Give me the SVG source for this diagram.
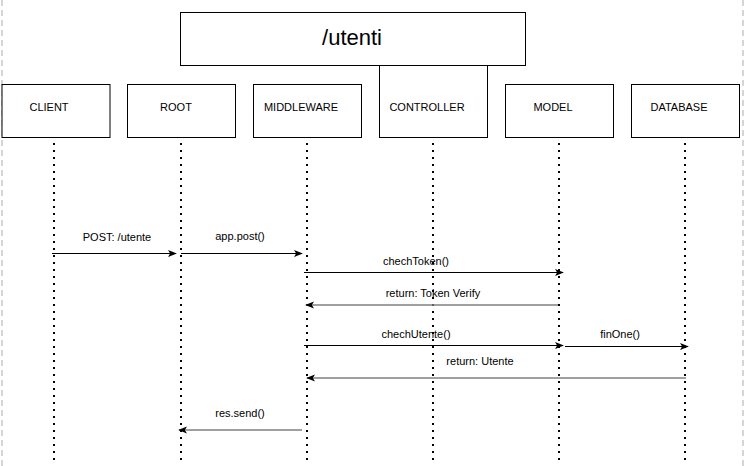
<svg xmlns="http://www.w3.org/2000/svg" width="746" height="466" viewBox="0 0 746 466">
<style>
.box{fill:#fff;stroke:#000;stroke-width:1}
.lbl{font-family:"Liberation Sans",Arial,sans-serif;font-size:11px;fill:#000;text-anchor:middle}
.life{stroke:#000;stroke-width:2;stroke-dasharray:2 5;fill:none}
.msg{stroke:#000;stroke-width:1;fill:none}
.ret{stroke:#808080;stroke-width:1.5;fill:none}
.border{stroke:#c8c8c8;stroke-width:1.5;stroke-dasharray:6 4}
</style>
<defs>
<marker id="ah" viewBox="0 0 10 10" refX="9" refY="5" markerWidth="9" markerHeight="9" markerUnits="userSpaceOnUse" orient="auto">
<path d="M0,1 L10,5 L0,9 L2.5,5 Z" fill="#000"/>
</marker>
</defs>
<line class="border" x1="2" y1="0" x2="2" y2="466"/>
<line class="border" x1="743" y1="0" x2="743" y2="466"/>
<g id="lifelines">
<line class="life" x1="54" y1="143" x2="54" y2="462"/>
<line class="life" x1="181" y1="143" x2="181" y2="462"/>
<line class="life" x1="307" y1="143" x2="307" y2="462"/>
<line class="life" x1="433" y1="143" x2="433" y2="462"/>
<line class="life" x1="559" y1="143" x2="559" y2="462"/>
<line class="life" x1="685" y1="143" x2="685" y2="462"/>
</g>
<g id="client"><rect class="box" x="2" y="84.5" width="108" height="53"/><text class="lbl" x="49" y="111">CLIENT</text></g>
<g id="root"><rect class="box" x="127.5" y="84.5" width="108" height="53"/><text class="lbl" x="176" y="111">ROOT</text></g>
<g id="middleware"><rect class="box" x="253.5" y="84.5" width="108" height="53"/><text class="lbl" x="301" y="111">MIDDLEWARE</text></g>
<g id="controller"><rect class="box" x="379.5" y="60" width="108" height="77.5"/><text class="lbl" x="427" y="111">CONTROLLER</text></g>
<g id="model"><rect class="box" x="505.5" y="84.5" width="108" height="53"/><text class="lbl" x="553" y="111">MODEL</text></g>
<g id="database"><rect class="box" x="631.5" y="84.5" width="108" height="53"/><text class="lbl" x="679" y="111">DATABASE</text></g>
<g id="title"><rect class="box" x="180.5" y="12.5" width="345" height="53"/><text x="352" y="45" font-family="Liberation Sans,Arial,sans-serif" font-size="22" text-anchor="middle">/utenti</text></g>
<g id="connectors">
<line class="msg" x1="52" y1="253.5" x2="176" y2="253.5" marker-end="url(#ah)"/>
<line class="msg" x1="181" y1="253.5" x2="302" y2="253.5" marker-end="url(#ah)"/>
<line class="msg" x1="304" y1="272.5" x2="563" y2="272.5" marker-end="url(#ah)"/>
<line class="ret" x1="558" y1="305" x2="306" y2="305" marker-end="url(#ah)"/>
<line class="msg" x1="304" y1="345.5" x2="563" y2="345.5" marker-end="url(#ah)"/>
<line class="msg" x1="565" y1="346.5" x2="688" y2="346.5" marker-end="url(#ah)"/>
<line class="ret" x1="686" y1="378" x2="307" y2="378" marker-end="url(#ah)"/>
<line class="ret" x1="302" y1="430" x2="179" y2="430" marker-end="url(#ah)"/>
</g>
<g id="labels">
<text class="lbl" x="117" y="241">POST: /utente</text>
<text class="lbl" x="240" y="240">app.post()</text>
<text class="lbl" x="416" y="265">chechToken()</text>
<text class="lbl" x="433" y="297">return: Token Verify</text>
<text class="lbl" x="416" y="338">chechUtente()</text>
<text class="lbl" x="620" y="338">finOne()</text>
<text class="lbl" x="480" y="365">return: Utente</text>
<text class="lbl" x="240" y="417">res.send()</text>
</g>
</svg>
